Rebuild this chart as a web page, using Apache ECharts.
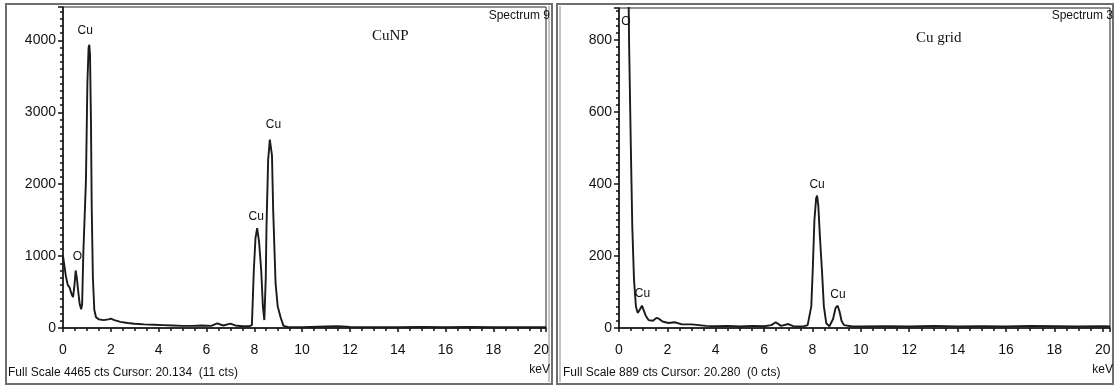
<!DOCTYPE html>
<html>
<head>
<meta charset="utf-8">
<script src="https://cdn.jsdelivr.net/npm/echarts@6/dist/echarts.min.js"></script>
<style>
  html, body { margin: 0; padding: 0; background: #fff; }
  #chart { width: 1115px; height: 387px; }
</style>
</head>
<body>
<div id="chart"></div>
<script>
// CuNP spectrum (Spectrum 9)
var npEnergy = [0.0, 0.05, 0.12, 0.2, 0.28, 0.36, 0.42, 0.47, 0.53, 0.58, 0.64, 0.7, 0.76, 0.8, 0.85, 0.9, 0.96, 1.02, 1.07, 1.1, 1.13, 1.17, 1.2, 1.25, 1.31, 1.38, 1.5, 1.7, 1.9, 2.0, 2.15, 2.4, 2.7, 3.0, 3.4, 3.8, 4.2, 4.6, 5.0, 5.4, 5.8, 6.2, 6.45, 6.7, 7.0, 7.2, 7.5, 7.8, 7.9, 7.98, 8.05, 8.12, 8.2, 8.29, 8.36, 8.42, 8.48, 8.51, 8.58, 8.65, 8.7, 8.74, 8.79, 8.89, 8.98, 9.1, 9.22, 9.4, 10.0, 11.0, 11.5, 12.0, 13.0, 14.0, 15.0, 16.0, 17.0, 18.0, 19.0, 20.0, 20.2];
var npCounts = [1000, 980, 720, 600, 560, 470, 430, 560, 800, 690, 500, 330, 260, 330, 1040, 1500, 2060, 3400, 3900, 3940, 3800, 2850, 1700, 700, 250, 150, 120, 110, 120, 130, 110, 85, 70, 60, 50, 45, 40, 35, 30, 30, 35, 30, 65, 35, 60, 35, 25, 25, 40, 800, 1250, 1390, 1200, 800, 300, 110, 700, 1400, 2340, 2620, 2640, 2400, 1640, 620, 300, 150, 30, 15, 10, 20, 25, 15, 12, 10, 15, 10, 15, 10, 12, 10, 10];
var npLabelE = [0.93, 0.6, 8.08, 8.8];
var npLabelC = [4140, 985, 1550, 2830];
var npLabelText = ['Cu', 'O', 'Cu', 'Cu'];

// Cu grid spectrum (Spectrum 3)
var gridEnergy = [0.0, 0.2, 0.36, 0.4, 0.42, 0.49, 0.55, 0.62, 0.7, 0.77, 0.85, 0.95, 1.0, 1.1, 1.22, 1.4, 1.55, 1.65, 1.8, 2.05, 2.3, 2.6, 3.0, 3.3, 3.6, 4.0, 4.5, 5.0, 5.5, 6.0, 6.3, 6.48, 6.7, 7.0, 7.2, 7.6, 7.8, 7.87, 7.95, 8.01, 8.08, 8.15, 8.19, 8.24, 8.31, 8.39, 8.47, 8.57, 8.7, 8.85, 8.95, 9.04, 9.12, 9.2, 9.3, 9.6, 10.0, 11.0, 12.0, 13.0, 14.0, 15.0, 16.0, 17.0, 18.0, 19.0, 20.0, 20.3];
var gridCounts = [3000, 2500, 1400, 900, 780, 500, 280, 135, 60, 42, 50, 62, 58, 35, 22, 20, 28, 26, 18, 14, 16, 10, 10, 8, 6, 5, 6, 4, 6, 5, 8, 16, 6, 11, 5, 4, 8, 13, 60, 161, 300, 360, 368, 340, 250, 161, 60, 13, 5, 25, 55, 62, 45, 20, 8, 5, 4, 5, 4, 6, 4, 5, 4, 6, 5, 4, 5, 4];
var gridLabelE = [0.29, 0.97, 8.19, 9.05];
var gridLabelC = [851, 96, 397, 92];
var gridLabelText = ['O', 'Cu', 'Cu', 'Cu'];

var narrow = "'Liberation Sans Narrow', 'Liberation Sans', Arial, sans-serif";

function pairs(xs, ys) {
    var out = [];
    for (var i = 0; i < xs.length; i++) out.push([xs[i], ys[i]]);
    return out;
}
function marks(xs, ys, texts) {
    var out = [];
    for (var i = 0; i < xs.length; i++) {
        out.push({ coord: [xs[i], ys[i]], value: texts[i] });
    }
    return out;
}

function xAxisCfg(idx, max) {
    return {
        type: 'value', gridIndex: idx, min: 0, max: max, interval: 2,
        axisLine: { lineStyle: { color: '#111', width: 1.5 } },
        axisTick: { inside: false, length: 4, lineStyle: { color: '#111', width: 1.5 } },
        minorTick: { show: true, splitNumber: 4, length: 3, lineStyle: { color: '#111', width: 1.5 } },
        splitLine: { show: false },
        axisLabel: {
            color: '#111', fontFamily: narrow, fontSize: 14, margin: 15,
            showMaxLabel: false,
            formatter: function (v) { return v <= 20 ? String(v) : ''; }
        }
    };
}
function yAxisCfg(idx, max, interval) {
    return {
        type: 'value', gridIndex: idx, min: 0, max: max, interval: interval,
        axisLine: { show: true, lineStyle: { color: '#111', width: 1.5 } },
        axisTick: { show: true, length: 5, lineStyle: { color: '#111', width: 1.5 } },
        minorTick: { show: true, splitNumber: 10, length: 3, lineStyle: { color: '#111', width: 1.5 } },
        splitLine: { show: false },
        axisLabel: {
            color: '#111', fontFamily: narrow, fontSize: 14, margin: 7,
            showMaxLabel: false,
            formatter: function (v) { return v > max - interval * 0.3 ? '' : String(v); }
        }
    };
}

function lineSeries(idx, xs, ys, lx, ly, lt) {
    return {
        type: 'line', xAxisIndex: idx, yAxisIndex: idx,
        data: pairs(xs, ys),
        symbol: 'none', clip: true,
        lineStyle: { color: '#1a1a1a', width: 1.9 },
        markPoint: {
            symbol: 'circle', symbolSize: 0,
            label: {
                show: true, position: 'inside', color: '#111',
                fontFamily: narrow, fontSize: 12,
                formatter: function (p) { return p.value; }
            },
            data: marks(lx, ly, lt)
        }
    };
}

var chart = echarts.init(document.getElementById('chart'));
var option = {
    animation: false,
    backgroundColor: '#fff',
    grid: [
        { left: 63, top: 7, width: 483, height: 321, show: true, borderColor: '#222', borderWidth: 1 },
        { left: 619, top: 8, width: 491, height: 320, show: true, borderColor: '#222', borderWidth: 1 }
    ],
    xAxis: [xAxisCfg(0, 20.2), xAxisCfg(1, 20.3)],
    yAxis: [yAxisCfg(0, 4465, 1000), yAxisCfg(1, 889, 200)],
    series: [
        lineSeries(0, npEnergy, npCounts, npLabelE, npLabelC, npLabelText),
        lineSeries(1, gridEnergy, gridCounts, gridLabelE, gridLabelC, gridLabelText)
    ],
    graphic: [
        // panel frames
        { type: 'rect', shape: { x: 6, y: 4, width: 546, height: 380 }, style: { fill: 'none', stroke: '#6e6e6e', lineWidth: 2 } },
        { type: 'line', shape: { x1: 549, y1: 6, x2: 549, y2: 382 }, style: { stroke: '#8a8a8a', lineWidth: 1 } },
        { type: 'rect', shape: { x: 557, y: 4, width: 556, height: 380 }, style: { fill: 'none', stroke: '#6e6e6e', lineWidth: 2 } },
        { type: 'line', shape: { x1: 560, y1: 6, x2: 560, y2: 382 }, style: { stroke: '#8a8a8a', lineWidth: 1 } },
        // headers
        { type: 'text', right: 1115 - 550, top: 10, style: { text: 'Spectrum 9', fill: '#111', font: '12px ' + narrow } },
        { type: 'text', right: 2, top: 10, style: { text: 'Spectrum 3', fill: '#111', font: '12px ' + narrow } },
        { type: 'text', left: 372, top: 29, style: { text: 'CuNP', fill: '#111', font: '15px "Liberation Serif", serif' } },
        { type: 'text', left: 916, top: 31, style: { text: 'Cu grid', fill: '#111', font: '15px "Liberation Serif", serif' } },
        // status bars
        { type: 'text', left: 8, top: 367, style: { text: 'Full Scale 4465 cts Cursor: 20.134  (11 cts)', fill: '#111', font: '12px ' + narrow } },
        { type: 'text', right: 1115 - 550, top: 364, style: { text: 'keV', fill: '#111', font: '12px ' + narrow } },
        { type: 'text', left: 563, top: 367, style: { text: 'Full Scale 889 cts Cursor: 20.280  (0 cts)', fill: '#111', font: '12px ' + narrow } },
        { type: 'text', right: 2, top: 364, style: { text: 'keV', fill: '#111', font: '12px ' + narrow } }
    ]
};
chart.setOption(option);
</script>
</body>
</html>
